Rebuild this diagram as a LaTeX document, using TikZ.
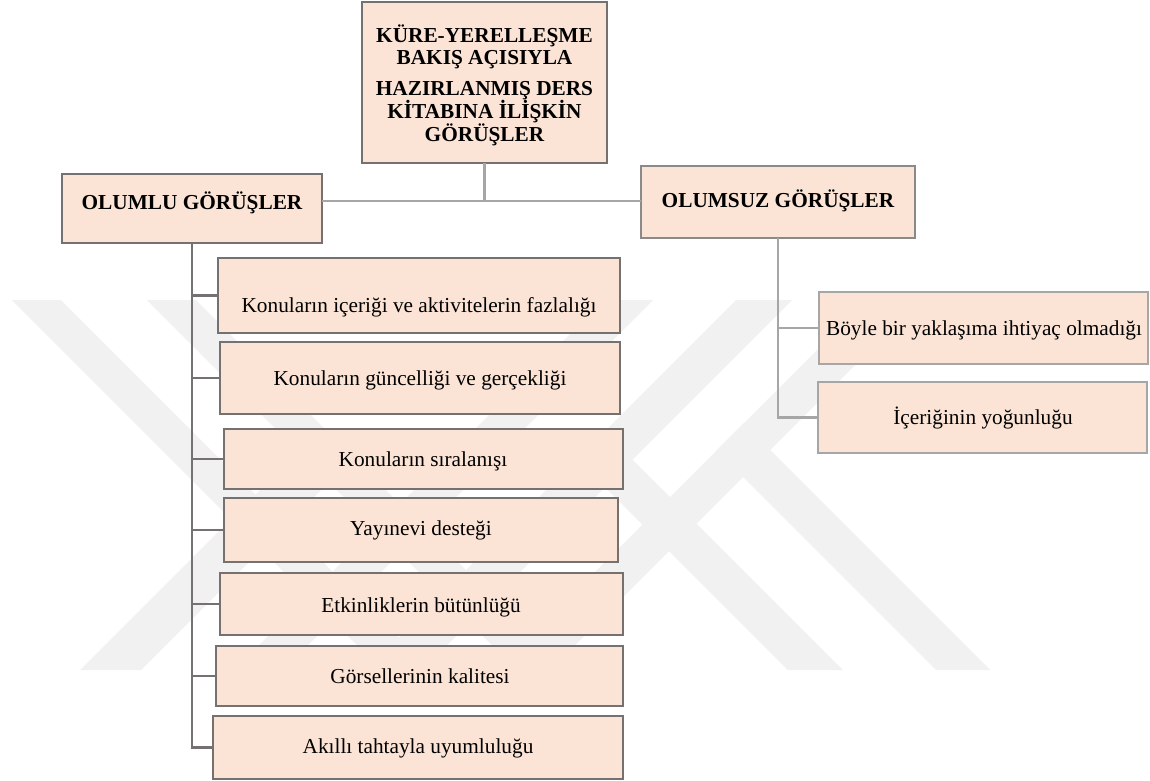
\documentclass[tikz,border=0pt]{standalone}
\usepackage{fontspec}
\setmainfont{Liberation Serif}

\definecolor{boxfill}{HTML}{FBE4D5}
\definecolor{darkedge}{HTML}{767171}
\definecolor{midedge}{HTML}{8A8A8A}
\definecolor{lightedge}{HTML}{A6A6A6}
\definecolor{wmgray}{HTML}{F1F1F1}

\tikzset{
  cardbox/.style={draw=darkedge, line width=2.6pt, fill=boxfill, inner sep=0pt, outer sep=0pt},
  cardmid/.style={cardbox, draw=midedge},
  cardsoft/.style={cardbox, draw=lightedge, line width=2.4pt},
  capt/.style={font=\fontsize{21.3}{21.5}\selectfont, inner sep=0pt, anchor=base, text=black},
  capthead/.style={capt, font=\fontsize{21.3}{21.6}\selectfont\bfseries},
  linkdark/.style={draw=darkedge, line width=2.6pt},
  linksoft/.style={draw=lightedge, line width=2.6pt},
}

% box with corners (x1,y1) and (x2,y2), in pixel units
\newcommand\cardat[6][cardbox]{%
  \node[#1, minimum width={#5-#3}, minimum height={#6-#4}] (#2)
    at ({(#3+#5)/2},{(#4+#6)/2}) {};}

\begin{document}
\begin{tikzpicture}[x=1pt,y=-1pt]
\useasboundingbox[fill=white] (0,0) rectangle (1150,780);

% faint background emblem
\fill[wmgray] (12,300) -- (61,300) -- (431,670) -- (382,670) -- cycle;
\fill[wmgray] (147,300) -- (196,300) -- (566,670) -- (517,670) -- cycle;
\fill[wmgray] (323,427) -- (353.5,457.5) -- (141,670) -- (80,670) -- cycle;
\fill[wmgray] (604,300) -- (653,300) -- (283,670) -- (234,670) -- cycle;
\fill[wmgray] (736,300) -- (792,300) -- (422,670) -- (366,670) -- cycle;
\fill[wmgray] (867,300) -- (920,300) -- (550,670) -- (497,670) -- cycle;
\fill[wmgray] (577,459) -- (604.5,431.5) -- (843,670) -- (788,670) -- cycle;
\fill[wmgray] (716.5,450.5) -- (743.5,423.5) -- (990,670) -- (936,670) -- cycle;

% top level
\cardat{title}{362}{2}{607}{163}
\node[capthead, align=center, anchor=center] (title-t) at ([yshift=-3pt]title.center)
  {KÜRE-YERELLEŞME\\BAKIŞ AÇISIYLA\\[9.5pt]HAZIRLANMIŞ DERS\\KİTABINA İLİŞKİN\\GÖRÜŞLER};

\cardat{olumlu}{62}{174}{322}{243}
\node[capthead] (olumlu-t) at (192,209) {OLUMLU GÖRÜŞLER};
\cardat[cardmid]{olumsuz}{641}{166}{915}{238}
\node[capthead] (olumsuz-t) at (778,207) {OLUMSUZ GÖRÜŞLER};

% positive views
\cardat{k1}{218}{258}{620}{333}
\node[capt] (k1-t) at (419,312) {Konuların içeriği ve aktivitelerin fazlalığı};
\cardat{k2}{220}{342}{620}{414}
\node[capt] (k2-t) at (420,385) {Konuların güncelliği ve gerçekliği};
\cardat{k3}{224}{429}{623}{489}
\node[capt] (k3-t) at (423,466) {Konuların sıralanışı};
\cardat{k4}{224}{498}{618}{562}
\node[capt] (k4-t) at (421,535) {Yayınevi desteği};
\cardat{k5}{220}{573}{623}{635}
\node[capt] (k5-t) at (421,612) {Etkinliklerin bütünlüğü};
\cardat{k6}{216}{646}{623}{706}
\node[capt] (k6-t) at (420,683) {Görsellerinin kalitesi};
\cardat{k7}{213}{716}{623}{779}
\node[capt] (k7-t) at (418,753) {Akıllı tahtayla uyumluluğu};

% negative views
\cardat[cardsoft]{r1}{819}{292}{1148}{364}
\node[capt] (r1-t) at (984,335) {Böyle bir yaklaşıma ihtiyaç olmadığı};
\cardat[cardsoft]{r2}{818}{382}{1147}{453}
\node[capt] (r2-t) at (983,424) {İçeriğinin yoğunluğu};

% connectors
\coordinate (lvl) at (0,201);
\draw[linksoft] (title.south) -- (title.south |- lvl);
\draw[linksoft] (olumlu.east |- lvl) -- (olumsuz.west |- lvl);
\foreach \b in {k1,k2,k3,k4,k5,k6,k7}
  \draw[linkdark] (olumlu.south) |- (\b.west);
\foreach \b in {r1,r2}
  \draw[linksoft] (olumsuz.south) |- (\b.west);
\end{tikzpicture}
\end{document}
